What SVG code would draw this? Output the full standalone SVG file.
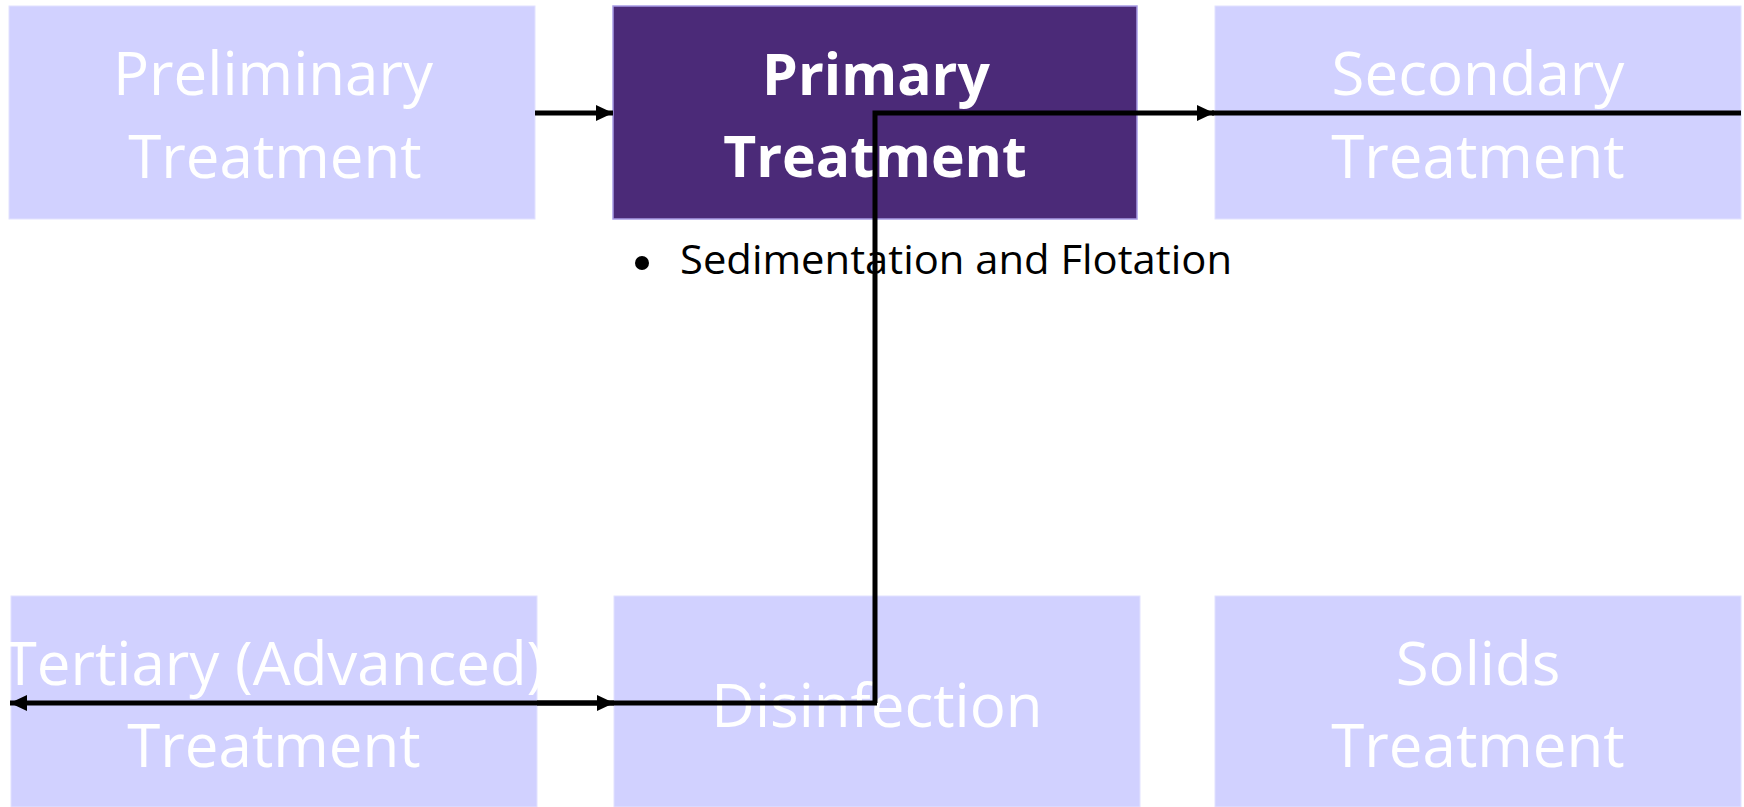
<svg xmlns="http://www.w3.org/2000/svg" width="1744" height="807" viewBox="0 0 1744 807">
<style>
.box{fill:#D1D1FF;stroke:#E2E2FF;stroke-width:1}
.sel{fill:#4B2A78;stroke:#A89CE6;stroke-width:1.5}
.t{font-family:"Open Sans","Noto Sans",sans-serif;font-size:60px;fill:#FFFFFF;text-anchor:middle}
.tb{font-family:"Open Sans","Noto Sans",sans-serif;font-size:57px;font-weight:bold;fill:#FFFFFF;text-anchor:middle}
.b{font-family:"Open Sans","Noto Sans",sans-serif;font-size:41px;fill:#000000}
.c{fill:none;stroke:#000000;stroke-width:5}
</style>
<defs>
<marker id="ah" markerUnits="userSpaceOnUse" markerWidth="18" markerHeight="16" refX="17" refY="8" orient="auto">
<path d="M0,0 L17,8 L0,16 z" fill="#000000"/>
</marker>
</defs>
<rect width="1744" height="807" fill="#FFFFFF"/>
<g id="preliminary">
<rect class="box" x="9" y="6" width="526" height="213"/>
<text class="t" x="273" y="95">Preliminary</text>
<text class="t" x="275" y="178">Treatment</text>
</g>
<g id="primary">
<rect class="sel" x="613" y="6" width="524" height="213"/>
<text class="tb" x="876" y="95">Primary</text>
<text class="tb" x="875" y="177">Treatment</text>
</g>
<g id="primary-bullet">
<circle cx="642" cy="263" r="7" fill="#000000"/>
<text class="b" x="680" y="274" textLength="552" lengthAdjust="spacingAndGlyphs">Sedimentation and Flotation</text>
</g>
<g id="secondary">
<rect class="box" x="1215" y="6" width="526" height="213"/>
<text class="t" x="1478" y="95">Secondary</text>
<text class="t" x="1478" y="178">Treatment</text>
</g>
<g id="tertiary">
<rect class="box" x="11" y="596" width="526" height="211"/>
<text class="t" x="274" y="685">Tertiary (Advanced)</text>
<text class="t" x="274" y="767">Treatment</text>
</g>
<g id="disinfection">
<rect class="box" x="614" y="596" width="526" height="211"/>
<text class="t" x="877" y="727">Disinfection</text>
</g>
<g id="solids">
<rect class="box" x="1215" y="596" width="526" height="211"/>
<text class="t" x="1478" y="685">Solids</text>
<text class="t" x="1478" y="767">Treatment</text>
</g>
<g id="connectors">
<path class="c" d="M535,113 H613" marker-end="url(#ah)"/>
<path class="c" d="M875,703 V113 H1214" marker-end="url(#ah)"/>
<path class="c" d="M1212,113 H1741"/>
<path class="c" d="M877,703 H10" marker-end="url(#ah)"/>
<path class="c" d="M537,703 H614" marker-end="url(#ah)"/>
</g>
</svg>
